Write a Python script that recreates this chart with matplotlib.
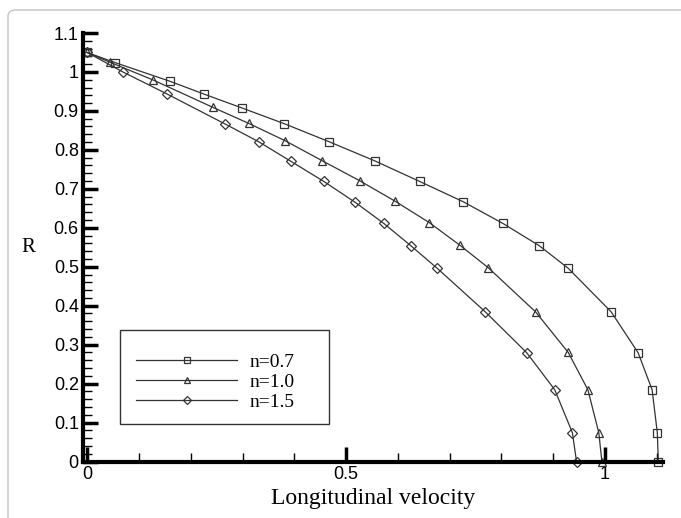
import matplotlib
matplotlib.use("Agg")
import matplotlib.pyplot as plt
from matplotlib.patches import FancyBboxPatch, Rectangle
from matplotlib.ticker import MultipleLocator
import numpy as np

# Data
x_n07 = [0.0, 0.054, 0.160, 0.226, 0.300, 0.381, 0.467, 0.555, 0.642, 0.726,
         0.803, 0.873, 0.929, 1.012, 1.064, 1.091, 1.101, 1.103]
r_n07 = [1.05, 1.024, 0.976, 0.943, 0.907, 0.867, 0.821, 0.772, 0.719, 0.667,
         0.611, 0.554, 0.496, 0.384, 0.279, 0.184, 0.074, 0.0]

x_n10 = [0.0, 0.044, 0.128, 0.243, 0.312, 0.383, 0.454, 0.526, 0.595, 0.661,
         0.720, 0.775, 0.866, 0.929, 0.967, 0.988, 0.994]
r_n10 = [1.05, 1.025, 0.979, 0.909, 0.868, 0.823, 0.772, 0.721, 0.668, 0.613,
         0.555, 0.497, 0.384, 0.280, 0.184, 0.074, 0.0]

x_n15 = [0.0, 0.069, 0.155, 0.267, 0.331, 0.393, 0.457, 0.518, 0.573, 0.625,
         0.676, 0.769, 0.849, 0.903, 0.937, 0.945]
r_n15 = [1.05, 1.0, 0.943, 0.866, 0.821, 0.771, 0.719, 0.665, 0.611, 0.554,
         0.496, 0.384, 0.279, 0.184, 0.074, 0.0]

labels = ["n=0.7", "n=1.0", "n=1.5"]
xlabel = "Longitudinal velocity"
ylabel = "R"

W, H = 681, 518
fig = plt.figure(figsize=(W / 100, H / 100), dpi=100)

# light rounded frame around the picture
frame = FancyBboxPatch((8 / W, -0.2), 1.2, 1 - 10 / H + 0.2,
                       boxstyle="round,pad=0,rounding_size=0.012",
                       transform=fig.transFigure, facecolor="none",
                       edgecolor="#c4c4c4", linewidth=1.0, clip_on=False)
fig.patches.append(frame)

ax = fig.add_axes([83 / W, 1 - 461.5 / H, (663 - 83) / W, (461.5 - 33) / H])

lc = "#333333"
common = dict(color=lc, linewidth=0.9, markerfacecolor="none",
              markeredgecolor=lc, markeredgewidth=0.9, clip_on=False)
ax.plot(x_n07, r_n07, marker="s", markersize=6, label=labels[0], **common)
ax.plot(x_n10, r_n10, marker="^", markersize=6, label=labels[1], **common)
ax.plot(x_n15, r_n15, marker="D", markersize=5, label=labels[2], **common)

# legend frame box (drawn inside the axes, below the legend entries)
legbox = Rectangle((120 / W, 1 - 424 / H), (329 - 120) / W, (424 - 330) / H,
                   transform=fig.transFigure, facecolor="white",
                   edgecolor="#333333", linewidth=1.0, zorder=4, clip_on=False)
ax.add_artist(legbox)

ax.set_xlim(-0.008, 1.112)
ax.set_ylim(0, 1.1)

for s in ["top", "right"]:
    ax.spines[s].set_visible(False)
for s in ["left", "bottom"]:
    ax.spines[s].set_linewidth(3.0)
    ax.spines[s].set_color("black")

ax.xaxis.set_major_locator(MultipleLocator(0.5))
ax.xaxis.set_minor_locator(MultipleLocator(0.1))
ax.yaxis.set_major_locator(MultipleLocator(0.1))
ax.yaxis.set_minor_locator(MultipleLocator(0.02))

def fmt(v, pos):
    s = ("%.1f" % v).rstrip("0").rstrip(".")
    return "0" if s in ("-0", "") else s

ax.xaxis.set_major_formatter(plt.FuncFormatter(fmt))
ax.yaxis.set_major_formatter(plt.FuncFormatter(fmt))

ax.tick_params(which="major", direction="in", length=11, width=2.5,
               labelsize=13, pad=3)
ax.tick_params(which="minor", direction="in", length=6.5, width=1.0)
for lab in ax.get_xticklabels() + ax.get_yticklabels():
    lab.set_family("Liberation Sans")

ax.set_xlabel(xlabel, family="Liberation Serif", fontsize=17, labelpad=4)
ax.set_ylabel(ylabel, family="Liberation Serif", fontsize=15, rotation=0,
              labelpad=18, va="center")

leg = ax.legend(loc="center left",
                bbox_to_anchor=(136 / W, 1 - 382 / H),
                bbox_transform=fig.transFigure,
                frameon=False, handlelength=5.2, handletextpad=0.62,
                borderpad=0, labelspacing=0.13, borderaxespad=0,
                markerscale=0.75,
                prop={"family": "Liberation Serif", "size": 14})
leg.set_zorder(5)

fig.savefig("out.png", dpi=100)
